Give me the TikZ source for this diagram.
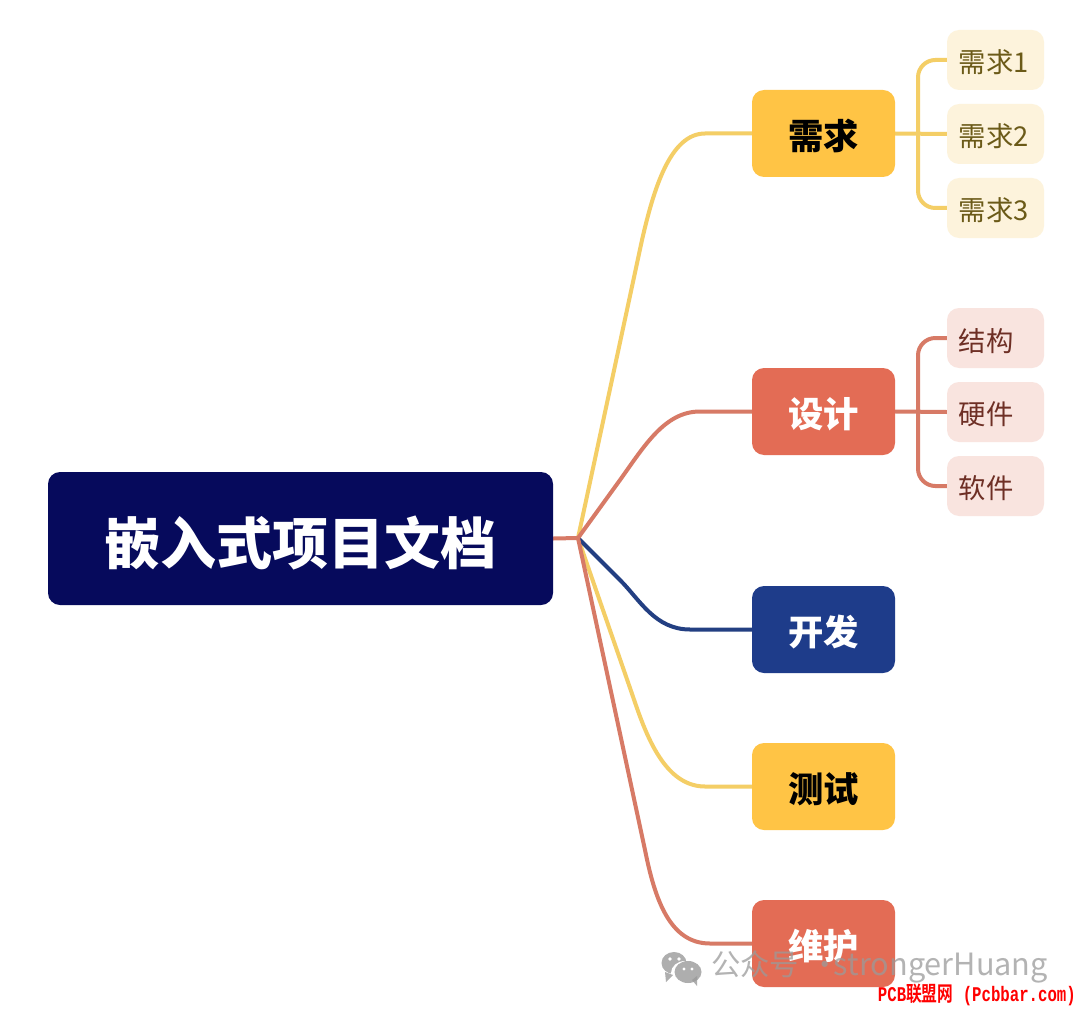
\documentclass[tikz,border=0pt]{standalone}
\usepackage{fontspec}
\setmainfont{Noto Sans CJK SC}
\newfontfamily\cjkbold{Noto Sans CJK SC Bold}
\newfontfamily\cjkblack{Noto Sans CJK SC Black}
\newfontfamily\wmlatin{Liberation Mono}
\usetikzlibrary{calc}
\definecolor{yelnode}{HTML}{FFC445}
\definecolor{yelline}{HTML}{F4CE66}
\definecolor{yelleaf}{HTML}{FDF3DC}
\definecolor{yeltext}{HTML}{6B5A18}
\definecolor{rednode}{HTML}{E36C55}
\definecolor{redline}{HTML}{D77A66}
\definecolor{redleaf}{HTML}{F9E4DF}
\definecolor{redtext}{HTML}{6E2F25}
\definecolor{bluenode}{HTML}{1E3C8A}
\definecolor{blueline}{HTML}{233F82}
\definecolor{rootnode}{HTML}{060A5C}
\definecolor{wmgray}{HTML}{9A9A9A}
\tikzset{
  px/.style={x=0.75pt,y=-0.75pt},
  rootbox/.style={fill=rootnode,rounded corners=9pt,minimum width=378.75pt,minimum height=99.75pt,inner sep=0pt},
  rootlabel/.style={text=white,inner sep=0pt,font=\cjkblack\fontsize{42}{42}\selectfont},
  mainbox/.style={rounded corners=9pt,minimum width=107.25pt,minimum height=65.25pt,inner sep=0pt},
  mainlabel/.style={inner sep=0pt,font=\cjkblack\fontsize{26.5}{27}\selectfont},
  leafbox/.style={rounded corners=9pt,minimum width=72.75pt,minimum height=45pt,inner sep=0pt},
  leaflabel/.style={inner sep=0pt,anchor=west,font=\fontsize{20.5}{21}\selectfont},
  link/.style={line width=3pt,line cap=round,line join=round},
  branch/.style={line width=3pt,rounded corners=13pt},
}
\begin{document}
\begin{tikzpicture}[px]
\useasboundingbox (0,0) rectangle (1080,1009);
\fill[white] (0,0) rectangle (1080,1009);
\coordinate (hub) at (578,538);
\coordinate (sp1) at (918,133.5);
\coordinate (sp2) at (918,412);
% box outlines are named first so that connectors can refer to them
\path
  (300.5,538.5) node[rootbox,fill=none] (root) {}
  (823.5,133.5) node[mainbox] (m1) {}
  (823.5,411.5) node[mainbox] (m2) {}
  (823.5,629.5) node[mainbox] (m3) {}
  (823.5,786.5) node[mainbox] (m4) {}
  (823.5,943.5) node[mainbox] (m5) {}
  (995.5,60) node[leafbox] (a1) {}
  (995.5,134) node[leafbox] (a2) {}
  (995.5,208) node[leafbox] (a3) {}
  (995.5,338) node[leafbox] (b1) {}
  (995.5,412) node[leafbox] (b2) {}
  (995.5,486) node[leafbox] (b3) {};
% connectors
\draw[link,yelline] (hub) -- (642,240) .. controls (653.5,190) and (670,133.5) .. (705,133.5) -- (m1.west);
\draw[link,yelline] (hub) -- (630,688) .. controls (642,722) and (660,786.5) .. (705,786.5) -- (m4.west);
\draw[link,blueline] (hub) -- (620,580) .. controls (640,600) and (655,629.5) .. (690,629.5) -- (m3.west);
\draw[link,redline] (hub) -- (620,480) .. controls (645,445) and (665,411.5) .. (700,411.5) -- (m2.west);
\draw[link,redline] (hub) -- (645,850) .. controls (655,900) and (670,943.5) .. (710,943.5) -- (m5.west);
\draw[link,redline] (root.east) -- (hub);
\draw[link,yelline] (m1.east) -- (a2.west);
\draw[branch,yelline] (a1.west) -| (sp1) |- (a3.west);
\draw[link,redline] (m2.east) -- (b2.west);
\draw[branch,redline] (b1.west) -| (sp2) |- (b3.west);
% boxes
\node[rootbox] (rootfill) at (root) {};
\node[rootlabel] (rootlab) at (300.5,543) {嵌入式项目文档};
\node[mainbox,fill=yelnode] (m1fill) at (m1) {};
\node[mainbox,fill=rednode] (m2fill) at (m2) {};
\node[mainbox,fill=bluenode] (m3fill) at (m3) {};
\node[mainbox,fill=yelnode] (m4fill) at (m4) {};
\node[mainbox,fill=rednode] (m5fill) at (m5) {};
\node[mainlabel,text=black] (m1lab) at (823.5,136) {需求};
\node[mainlabel,text=white] (m2lab) at (823.5,414) {设计};
\node[mainlabel,text=white] (m3lab) at (823.5,632) {开发};
\node[mainlabel,text=black] (m4lab) at (823.5,789) {测试};
\node[mainlabel,text=white] (m5lab) at (823.5,946) {维护};
\node[leafbox,fill=yelleaf] (a1fill) at (a1) {};
\node[leafbox,fill=yelleaf] (a2fill) at (a2) {};
\node[leafbox,fill=yelleaf] (a3fill) at (a3) {};
\node[leafbox,fill=redleaf] (b1fill) at (b1) {};
\node[leafbox,fill=redleaf] (b2fill) at (b2) {};
\node[leafbox,fill=redleaf] (b3fill) at (b3) {};
\node[leaflabel,text=yeltext] (a1lab) at (958.5,62) {需求1};
\node[leaflabel,text=yeltext] (a2lab) at (958.5,136) {需求2};
\node[leaflabel,text=yeltext] (a3lab) at (958.5,210) {需求3};
\node[leaflabel,text=redtext] (b1lab) at (958.5,341) {结构};
\node[leaflabel,text=redtext] (b2lab) at (958.5,414) {硬件};
\node[leaflabel,text=redtext] (b3lab) at (958.5,488) {软件};
% watermark
\fill[wmgray,opacity=.8] (674,963) ellipse (12.5 and 11);
\fill[white] (685,973) ellipse (14 and 12);
\fill[wmgray,opacity=.8] (688,972) ellipse (13.5 and 11);
\fill[wmgray,opacity=.8] (665,972) -- (666,982) -- (673,975) -- cycle;
\fill[wmgray,opacity=.8] (692,980) -- (697,986) -- (697,976) -- cycle;
\fill[white] (670,959) circle (1.8) (679,959) circle (1.8) (684,969) circle (1.6) (692,969) circle (1.6);
\node[anchor=west,inner sep=0pt,text=wmgray,opacity=.75,font=\fontsize{22}{22}\selectfont] (wm) at (711,967)
  {公众号\hspace{8.5pt}·\hspace{-4.5pt}{\fontsize{23}{23}\selectfont strongerHuang}};
\node[anchor=east,inner sep=0pt,text=red,xscale=.75,font=\fontsize{15.7}{16}\selectfont] (site) at (1076,995)
  {{\wmlatin\bfseries PCB}{\cjkbold 联盟网}{\wmlatin\bfseries\ (Pcbbar.com)}};
\end{tikzpicture}
\end{document}
